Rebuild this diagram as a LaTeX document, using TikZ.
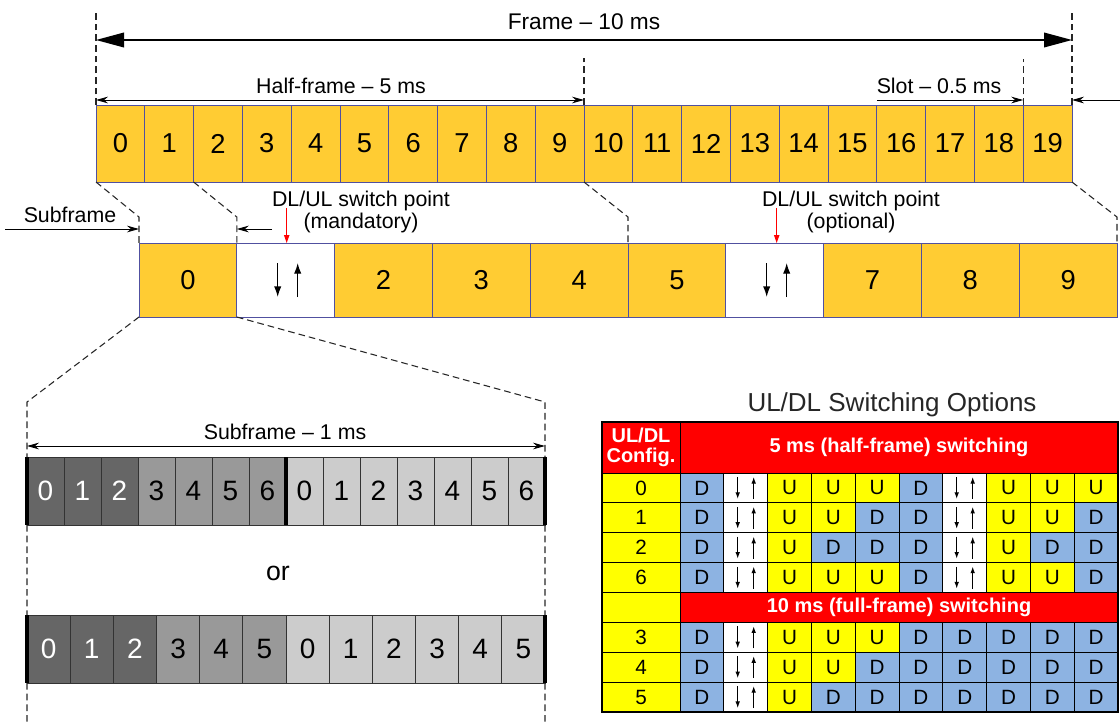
\documentclass[tikz,border=0pt]{standalone}
\usepackage{fontspec}
\setmainfont{Liberation Sans}
\usetikzlibrary{arrows.meta,calc}

\definecolor{gold}{RGB}{255,204,51}
\definecolor{cellline}{RGB}{80,80,160}
\definecolor{symdark}{RGB}{102,102,102}
\definecolor{symmid}{RGB}{153,153,153}
\definecolor{symlight}{RGB}{204,204,204}
\definecolor{tabD}{RGB}{141,179,226}
\definecolor{tabU}{RGB}{255,255,0}
\definecolor{tabS}{RGB}{255,255,255}
\definecolor{tabhead}{RGB}{255,0,0}

\newcommand{\fs}[1]{\fontsize{#1}{#1}\selectfont}
% down/up arrow pair of a special subframe: style, node, left, right, half length
\newcommand{\dlul}[5]{%
  \draw[#1] ($(#2.center)+(-#3,-#5)$) -- ($(#2.center)+(-#3,#5)$);
  \draw[#1] ($(#2.center)+(#4,#5)$) -- ($(#2.center)+(#4,-#5)$);}

\begin{document}
\begin{tikzpicture}
  [x=0.75pt,y=-0.75pt,
   every node/.style={inner sep=0pt,outer sep=0pt,font=\fs{16pt}},
   slot/.style={draw=cellline,fill=gold,line width=0.6pt,minimum width=36.6pt,minimum height=57.75pt,font=\fs{20.5pt}},
   subfr/.style={slot,minimum width=73.35pt,minimum height=55.5pt},
   sym/.style={draw=black!80,line width=0.6pt,minimum height=51pt,font=\fs{21pt}},
   tcell/.style={draw=black,line width=0.6pt,minimum width=32.85pt,minimum height=22.4pt,font=\fs{15.5pt}},
   thead/.style={tcell,fill=tabhead,text=white,font=\fs{15pt}\bfseries},
   guide/.style={black!85,line width=0.8pt,dash pattern=on 5pt off 3pt},
   dim/.style={line width=0.7pt,-{Stealth[length=9pt,width=5pt]}},
   dimboth/.style={line width=0.7pt,{Stealth[length=9pt,width=5pt]}-{Stealth[length=9pt,width=5pt]}},
   bigdim/.style={line width=1.1pt,{Triangle[length=21pt,width=11pt]}-{Triangle[length=21pt,width=11pt]}},
   swpt/.style={red,line width=0.8pt,-{Triangle[length=6pt,width=4pt]}},
   updown/.style={line width=1pt,-{Latex[length=8pt,width=5.5pt]}},
   updown small/.style={line width=0.8pt,-{Latex[length=5pt,width=3.5pt]}}]
  \useasboundingbox (0,0) rectangle (1120,725);

  % radio frame: 20 slots
  \foreach \i in {0,...,19}
    \node[slot] (t\i) at ({120.4+48.8*\i},143.5) {\i};

  % subframes
  \foreach \i in {0,2,3,4,5,7,8,9}
    \node[subfr] (s\i) at ({187.9+97.8*\i},280) {\i};
  \foreach \i in {1,6}
    \node[subfr,fill=white] (s\i) at ({187.9+97.8*\i},280) {};
  \dlul{updown}{s1}{8}{12}{17}
  \dlul{updown}{s6}{8}{12}{17}

  % frame, half-frame and slot dimensions
  \draw[guide] (t0.north west) -- ++(0,-95);
  \draw[guide] (t19.north east) -- ++(0,-95);
  \draw[guide] (t9.north east) -- ++(0,-47);
  \draw[guide] (t18.north east) -- ++(0,-46);
  \draw[bigdim] ($(t0.north west)+(0,-65)$) -- ($(t19.north east)+(0,-65)$);
  \node[font=\fs{17pt}] (frame) at (584,22) {Frame – 10 ms};
  \draw[dimboth] ($(t0.north west)+(0,-5)$) -- ($(t9.north east)+(0,-5)$);
  \node (half) at (341,86) {Half-frame – 5 ms};
  \coordinate (slotin) at (1120,100);
  \draw[dim] ($(t16.north west)+(0,-5)$) -- ($(t18.north east)+(0,-5)$);
  \draw[dim] (slotin) -- ($(t19.north east)+(0,-5)$);
  \node (slotlbl) at (939,86) {Slot – 0.5 ms};

  % slots to subframes
  \draw[guide] (t0.south west) -- ($(s0.north west)+(0,-26)$) -- (s0.north west);
  \draw[guide] (t2.south west) -- ($(s1.north west)+(0,-26)$) -- (s1.north west);
  \draw[guide] (t10.south west) -- ($(s5.north west)+(0,-26)$) -- (s5.north west);
  \draw[guide] (t19.south east) -- ($(s9.north east)+(0,-26)$) -- (s9.north east);

  \coordinate (sfin) at (5,229);
  \coordinate (sfout) at (272,229);
  \draw[dim] (sfin) -- (sfin -| s0.north west);
  \draw[dim] (sfout) -- (sfout -| s1.north west);
  \node (sflbl) at (70,215) {Subframe};
  \node[align=center] (mand) at (361,212) {DL/UL switch point\\(mandatory)};
  \node[align=center] (opt) at (851,212) {DL/UL switch point\\(optional)};
  \draw[swpt] ($(s1.north)+(1,-35)$) -- ($(s1.north)+(1,0)$);
  \draw[swpt] ($(s6.north)+(2,-35)$) -- ($(s6.north)+(2,0)$);

  % OFDM symbols of one subframe
  \foreach \i/\d/\c/\tc in {0/0/symdark/white,1/1/symdark/white,2/2/symdark/white,
      3/3/symmid/black,4/4/symmid/black,5/5/symmid/black,6/6/symmid/black,
      7/0/symlight/black,8/1/symlight/black,9/2/symlight/black,10/3/symlight/black,
      11/4/symlight/black,12/5/symlight/black,13/6/symlight/black}
    \node[sym,fill=\c,text=\tc,minimum width=27.75pt] (a\i) at ({45.5+37*\i},491) {\d};
  \foreach \i/\d/\c/\tc in {0/0/symdark/white,1/1/symdark/white,2/2/symdark/white,
      3/3/symmid/black,4/4/symmid/black,5/5/symmid/black,
      6/0/symlight/black,7/1/symlight/black,8/2/symlight/black,9/3/symlight/black,
      10/4/symlight/black,11/5/symlight/black}
    \node[sym,fill=\c,text=\tc,minimum width=32.375pt] (b\i) at ({48.58+43.167*\i},649) {\d};
  \draw[line width=2.4pt] (a0.north west) -- (a0.south west)
     (a6.north east) -- (a6.south east) (a13.north east) -- (a13.south east)
     (b0.north west) -- (b0.south west) (b11.north east) -- (b11.south east);

  \draw[guide] (s0.south west) -- ($(a0.north west)+(0,-55)$) -- (a0.north west)
     (a0.south west) -- (b0.north west) (b0.south west) -- ++(0,42);
  \draw[guide] (s0.south east) -- ($(a13.north east)+(0,-55)$) -- (a13.north east)
     (a13.south east) -- (b11.north east) (b11.south east) -- ++(0,42);
  \draw[dimboth] ($(a0.north west)+(0,-11)$) -- ($(a13.north east)+(0,-11)$);
  \node (sf1) at (285,432) {Subframe – 1 ms};
  \node[font=\fs{20pt}] (or) at (278,573) {or};

  % switching configurations
  \node[font=\fs{19.5pt},text=black!85] (opts) at (892,405) {UL/DL Switching Options};
  \node[thead,align=center,minimum width=58.5pt,minimum height=38.25pt] (cfg) at (641,447.5) {UL/DL\\Config.};
  \node[thead,minimum width=328.5pt,minimum height=38.25pt] (h5) at (899,447.5) {5 ms (half-frame) switching};
  \foreach \r/\n/\pat in {0/0/{D,S,U,U,U,D,S,U,U,U},1/1/{D,S,U,U,D,D,S,U,U,D},
      2/2/{D,S,U,D,D,D,S,U,D,D},3/6/{D,S,U,U,U,D,S,U,U,D},
      5/3/{D,S,U,U,U,D,D,D,D,D},6/4/{D,S,U,U,D,D,D,D,D,D},7/5/{D,S,U,D,D,D,D,D,D,D}} {
    \node[tcell,fill=tabU,minimum width=58.5pt] (cell\r-0) at (641,{487.94+29.875*\r}) {\n};
    \foreach \v [count=\k] in \pat {
      \node[tcell,fill=tab\v] (cell\r-\k) at ({658.1+43.8*\k},{487.94+29.875*\r}) {\if S\v\else\v\fi};
      \if S\v \dlul{updown small}{cell\r-\k}{8}{8}{11}\fi
    }
  }
  \node[tcell,fill=tabU,minimum width=58.5pt] (cell4-0) at (641,607.44) {};
  \node[thead,minimum width=328.5pt] (h10) at (899,607.44) {10 ms (full-frame) switching};
  \draw[line width=1pt] (cfg.north west) rectangle (cell7-10.south east);
\end{tikzpicture}
\end{document}
